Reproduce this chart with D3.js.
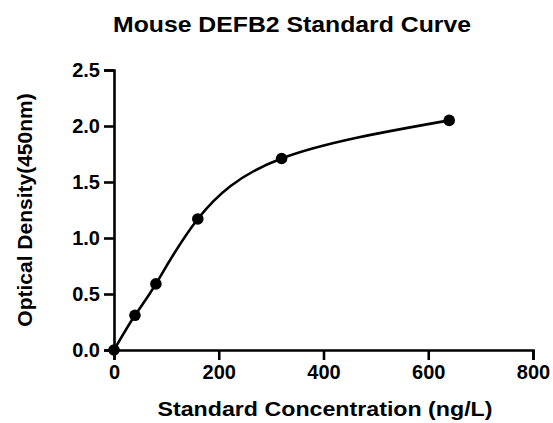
<!DOCTYPE html>
<html>
<head>
<meta charset="utf-8">
<script src="https://cdn.jsdelivr.net/npm/d3@7"></script>
<style>
  html, body { margin: 0; padding: 0; background: #fff; }
  svg { display: block; font-family: "Liberation Sans", Arial, Helvetica, sans-serif; }
</style>
</head>
<body>
<svg id="chart" width="553" height="423"></svg>
<script>
const concentrations = [0, 40, 80, 160, 320, 640];
const odValues = [0.0, 0.31, 0.59, 1.17, 1.71, 2.05];
const xTicks = [0, 200, 400, 600, 800];
const yTicks = [0.0, 0.5, 1.0, 1.5, 2.0, 2.5];
const titleText = "Mouse DEFB2 Standard Curve";
const xLabelText = "Standard Concentration (ng/L)";
const yLabelText = "Optical Density(450nm)";

(function () {
const svg = d3.select("#chart");
const mLeft = 114, mRight = 533, mTop = 70, mBottom = 350;

const x = d3.scaleLinear().domain([0, 800]).range([mLeft, mRight]);
const y = d3.scaleLinear().domain([0, 2.5]).range([mBottom, mTop]);

const xAxis = svg.append("g")
  .attr("transform", `translate(0,${mBottom})`)
  .call(d3.axisBottom(x).tickValues(xTicks).tickFormat(d3.format("d")).tickSize(10).tickPadding(5));
const yAxis = svg.append("g")
  .attr("transform", `translate(${mLeft},0)`)
  .call(d3.axisLeft(y).tickValues(yTicks).tickFormat(d3.format(".1f")).tickSize(10).tickPadding(4));

[xAxis, yAxis].forEach(g => {
  g.select(".domain").attr("stroke", "#000").attr("stroke-width", 2.6);
  g.selectAll(".tick line").attr("stroke", "#000").attr("stroke-width", 2.6);
  g.selectAll(".tick text").attr("fill", "#000").attr("font-size", 20).attr("font-weight", "bold")
    .attr("font-family", "'Liberation Sans', Arial, sans-serif");
});

const pts = concentrations.map((c, i) => [c, odValues[i]]);

const line = d3.line().x(d => x(d[0])).y(d => y(d[1])).curve(d3.curveNatural);
svg.append("path").datum(pts)
  .attr("d", line).attr("fill", "none").attr("stroke", "#000").attr("stroke-width", 2.6);

svg.selectAll("circle.pt").data(pts).enter().append("circle")
  .attr("class", "pt")
  .attr("cx", d => x(d[0])).attr("cy", d => y(d[1])).attr("r", 5.8).attr("fill", "#000");

svg.append("text").attr("x", 292).attr("y", 32).attr("text-anchor", "middle")
  .attr("font-size", 22).attr("font-weight", "bold")
  .attr("textLength", 358).attr("lengthAdjust", "spacingAndGlyphs").text(titleText);

svg.append("text").attr("x", 325).attr("y", 416).attr("text-anchor", "middle")
  .attr("font-size", 21).attr("font-weight", "bold")
  .attr("textLength", 335).attr("lengthAdjust", "spacingAndGlyphs").text(xLabelText);

svg.append("text").attr("transform", `translate(32,${(mTop + mBottom) / 2}) rotate(-90)`)
  .attr("text-anchor", "middle")
  .attr("font-size", 21).attr("font-weight", "bold").text(yLabelText);
})();
</script>
</body>
</html>
